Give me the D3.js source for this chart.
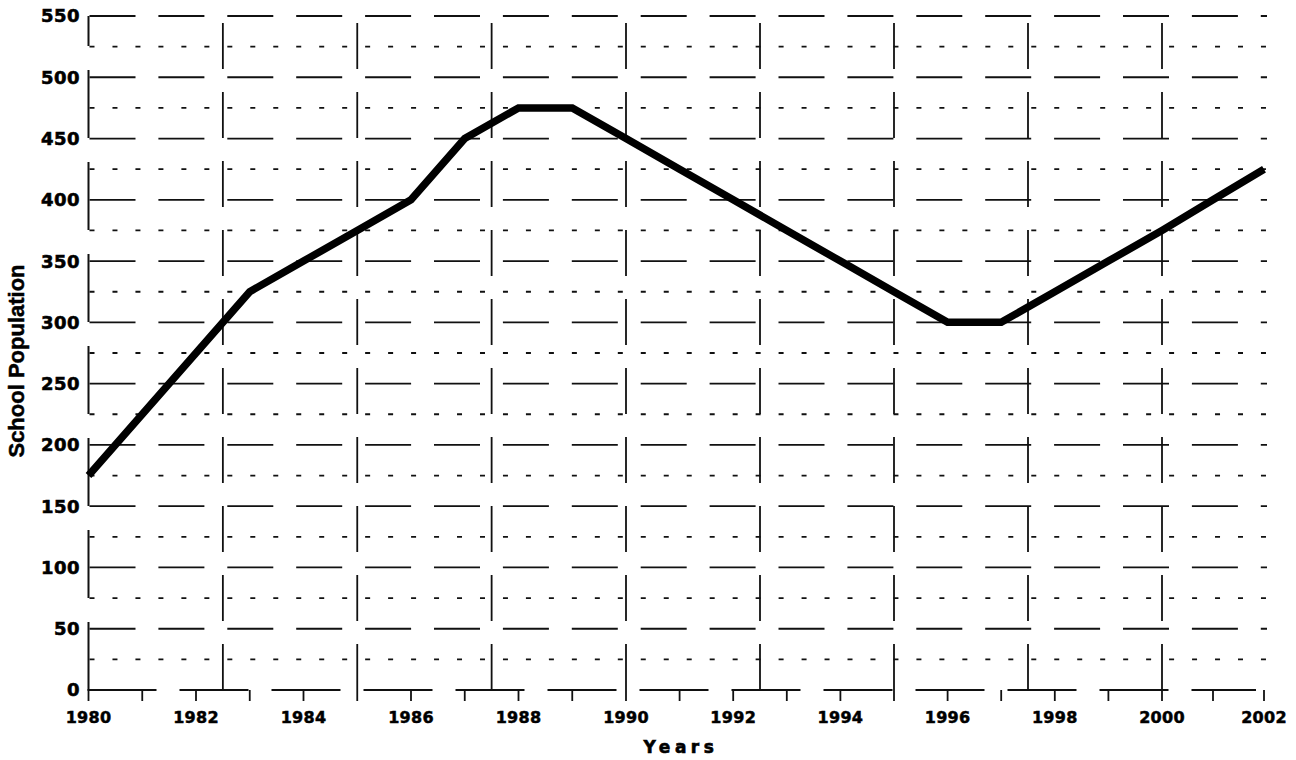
<!DOCTYPE html>
<html>
<head>
<meta charset="utf-8">
<script src="https://cdn.jsdelivr.net/npm/d3@7"></script>
<style>
  html, body { margin: 0; padding: 0; background: #fff; }
  svg { display: block; }
</style>
</head>
<body>
<svg id="chart" width="1296" height="760"></svg>
<script>
const years = [1980,1981,1982,1983,1984,1985,1986,1987,1988,1989,1990,1991,1992,1993,1994,1995,1996,1997,1998,1999,2000,2001,2002];
const population = [175,225,275,325,350,375,400,450,475,475,450,425,400,375,350,325,300,300,325,350,375,400,425];
const yTicks = [0,50,100,150,200,250,300,350,400,450,500,550];
const yMinor = [25,75,125,175,225,275,325,375,425,475,525];
const xLabels = [1980,1982,1984,1986,1988,1990,1992,1994,1996,1998,2000,2002];
const xGrid = [1982.5,1985,1987.5,1990,1992.5,1995,1997.5,2000];

const svg = d3.select("#chart");
const x = d3.scaleLinear().domain([1980, 1990, 2000, 2002]).range([88.5, 626, 1162, 1264]);
const y = d3.scaleLinear().domain([0, 550]).range([690, 16]);
const gridEnd = 1267;

// dotted minor horizontals
svg.append("g").selectAll("line").data(yMinor).join("line")
  .attr("x1", x(1980) + 1).attr("x2", gridEnd)
  .attr("y1", d => y(d)).attr("y2", d => y(d))
  .attr("stroke", "#111").attr("stroke-width", 1.8)
  .attr("stroke-dasharray", "5,17.97");

// dashed major horizontals
svg.append("g").selectAll("line").data(yTicks.filter(d => d > 0)).join("line")
  .attr("x1", x(1980) + 1).attr("x2", gridEnd)
  .attr("y1", d => y(d)).attr("y2", d => y(d))
  .attr("stroke", "#111").attr("stroke-width", 1.8)
  .attr("stroke-dasharray", "46,22.9");

// dashed vertical grid (drawn from bottom upward)
svg.append("g").selectAll("line").data(xGrid).join("line")
  .attr("x1", d => x(d)).attr("x2", d => x(d))
  .attr("y1", y(0)).attr("y2", y(550))
  .attr("stroke", "#111").attr("stroke-width", 1.8)
  .attr("stroke-dasharray", "46,23");

// y axis (dashed, drawn from bottom)
svg.append("line")
  .attr("x1", x(1980)).attr("x2", x(1980))
  .attr("y1", y(0)).attr("y2", y(550))
  .attr("stroke", "#111").attr("stroke-width", 2)
  .attr("stroke-dasharray", "68,24");

// x axis (dashed)
svg.append("line")
  .attr("x1", x(1980) - 1).attr("x2", 1256)
  .attr("y1", y(0)).attr("y2", y(0))
  .attr("stroke", "#111").attr("stroke-width", 2)
  .attr("stroke-dasharray", "69,23");

// x ticks every year
svg.append("g").selectAll("line").data(years).join("line")
  .attr("x1", d => x(d)).attr("x2", d => x(d))
  .attr("y1", y(0)).attr("y2", y(0) + 11)
  .attr("stroke", "#111").attr("stroke-width", 1.8);

// y tick labels
svg.append("g").selectAll("text").data(yTicks).join("text")
  .attr("x", 80).attr("y", d => y(d)).attr("dy", "0.36em")
  .attr("text-anchor", "end")
  .attr("font-family", "DejaVu Sans").attr("font-weight", "bold")
  .attr("font-size", 18).attr("letter-spacing", 0.5)
  .attr("fill", "#000").attr("stroke", "#000").attr("stroke-width", 0.6)
  .text(d => d);

// x tick labels
svg.append("g").selectAll("text").data(xLabels).join("text")
  .attr("x", d => x(d)).attr("y", 723)
  .attr("text-anchor", "middle")
  .attr("font-family", "DejaVu Sans").attr("font-weight", "bold")
  .attr("font-size", 16).attr("letter-spacing", 0.3)
  .attr("fill", "#000").attr("stroke", "#000").attr("stroke-width", 0.5)
  .text(d => d);

// axis titles
svg.append("text")
  .attr("x", 681).attr("y", 753)
  .attr("text-anchor", "middle")
  .attr("font-family", "DejaVu Sans").attr("font-weight", "bold")
  .attr("font-size", 17).attr("letter-spacing", 4.5)
  .attr("fill", "#000").attr("stroke", "#000").attr("stroke-width", 0.6)
  .text("Years");

svg.append("text")
  .attr("transform", "translate(24,361) rotate(-90)")
  .attr("text-anchor", "middle")
  .attr("font-family", "Liberation Sans, Arial, sans-serif").attr("font-weight", "bold")
  .attr("font-size", 22)
  .attr("fill", "#000").attr("stroke", "#000").attr("stroke-width", 0.5)
  .text("School Population");

// data line
const line = d3.line().x((d, i) => x(years[i])).y(d => y(d));
svg.append("path")
  .datum(population)
  .attr("d", line)
  .attr("fill", "none")
  .attr("stroke", "#000")
  .attr("stroke-width", 7.5)
  .attr("stroke-linejoin", "miter");
</script>
</body>
</html>
